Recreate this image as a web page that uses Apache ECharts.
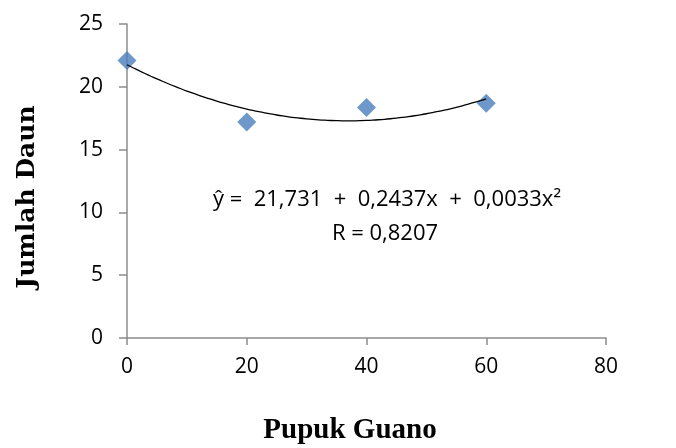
<!DOCTYPE html>
<html>
<head>
<meta charset="utf-8">
<script src="https://cdn.jsdelivr.net/npm/echarts@6/dist/echarts.min.js"></script>
<style>
  html, body { margin: 0; padding: 0; background: #fff; }
  #main { width: 676px; height: 448px; }
</style>
</head>
<body>
<div id="main"></div>
<script type="text/javascript">
    // data
    var dosis = [0, 20, 40, 60];              // Pupuk Guano
    var daun = [22.1, 17.2, 18.35, 18.7];     // Jumlah Daun
    var xTicks = [0, 20, 40, 60, 80];
    var yTicks = [0, 5, 10, 15, 20, 25];
    var persamaan = 'ŷ =  21,731  +  0,2437x  +  0,0033x²';
    var nilaiR = 'R = 0,8207';

    // trendline polinomial orde 2 (least squares dari data)
    function fitQuad(xs, ys) {
        var n = xs.length, s = [0, 0, 0, 0, 0], t = [0, 0, 0];
        for (var i = 0; i < n; i++) {
            for (var k = 0; k < 5; k++) s[k] += Math.pow(xs[i], k);
            for (var k = 0; k < 3; k++) t[k] += ys[i] * Math.pow(xs[i], k);
        }
        var m = [[s[0], s[1], s[2], t[0]], [s[1], s[2], s[3], t[1]], [s[2], s[3], s[4], t[2]]];
        for (var c = 0; c < 3; c++) {
            for (var r = c + 1; r < 3; r++) {
                var f = m[r][c] / m[c][c];
                for (var j = c; j < 4; j++) m[r][j] -= f * m[c][j];
            }
        }
        var b = [0, 0, 0];
        for (var r = 2; r >= 0; r--) {
            var v = m[r][3];
            for (var j = r + 1; j < 3; j++) v -= m[r][j] * b[j];
            b[r] = v / m[r][r];
        }
        return b;
    }
    var koef = fitQuad(dosis, daun);
    var trend = [];
    for (var x = dosis[0]; x <= dosis[dosis.length - 1]; x += 1) {
        trend.push([x, koef[0] + koef[1] * x + koef[2] * x * x]);
    }

    var myChart = echarts.init(document.getElementById('main'));
    var abu = '#8c8c8c';
    var option = {
        backgroundColor: '#fff',
        animation: false,
        grid: { left: 127, right: 70, top: 24, bottom: 110 },
        xAxis: {
            type: 'value',
            min: xTicks[0], max: xTicks[xTicks.length - 1], interval: 20,
            splitLine: { show: false },
            axisLine: { lineStyle: { color: abu, width: 1.5 } },
            axisTick: { length: 7, lineStyle: { color: abu, width: 1.5 } },
            axisLabel: { margin: 19, color: '#000', fontFamily: 'Open Sans', fontSize: 21 }
        },
        yAxis: {
            type: 'value',
            min: yTicks[0], max: yTicks[yTicks.length - 1], interval: 5,
            splitLine: { show: false },
            axisLine: { show: true, lineStyle: { color: abu, width: 1.5 } },
            axisTick: { show: true, length: 8, lineStyle: { color: abu, width: 1.5 } },
            axisLabel: { margin: 24, color: '#000', fontFamily: 'Open Sans', fontSize: 21 }
        },
        series: [{
            type: 'line',
            data: trend,
            symbol: 'none',
            smooth: true,
            lineStyle: { color: '#000', width: 1.3 },
            z: 3
        }, {
            type: 'scatter',
            data: dosis.map(function (d, i) { return [d, daun[i]]; }),
            symbol: 'diamond',
            symbolSize: [19, 19],
            itemStyle: { color: '#4a7ebb' },
            z: 2
        }],
        graphic: [
            { type: 'text', x: 387, y: 200, style: { text: persamaan, fill: '#000', font: '22px "Open Sans"', align: 'center', verticalAlign: 'middle' } },
            { type: 'text', x: 385, y: 234, style: { text: nilaiR, fill: '#000', font: '22px "Open Sans"', align: 'center', verticalAlign: 'middle' } },
            { type: 'text', x: 350, y: 431, style: { text: 'Pupuk Guano', fill: '#000', font: 'bold 29px "Liberation Serif"', align: 'center', verticalAlign: 'middle' } },
            { type: 'text', x: 27, y: 197, rotation: Math.PI / 2, style: { text: 'Jumlah Daun', fill: '#000', font: 'bold 25px "DejaVu Serif"', align: 'center', verticalAlign: 'middle' } }
        ]
    };
    myChart.setOption(option);
</script>
</body>
</html>
